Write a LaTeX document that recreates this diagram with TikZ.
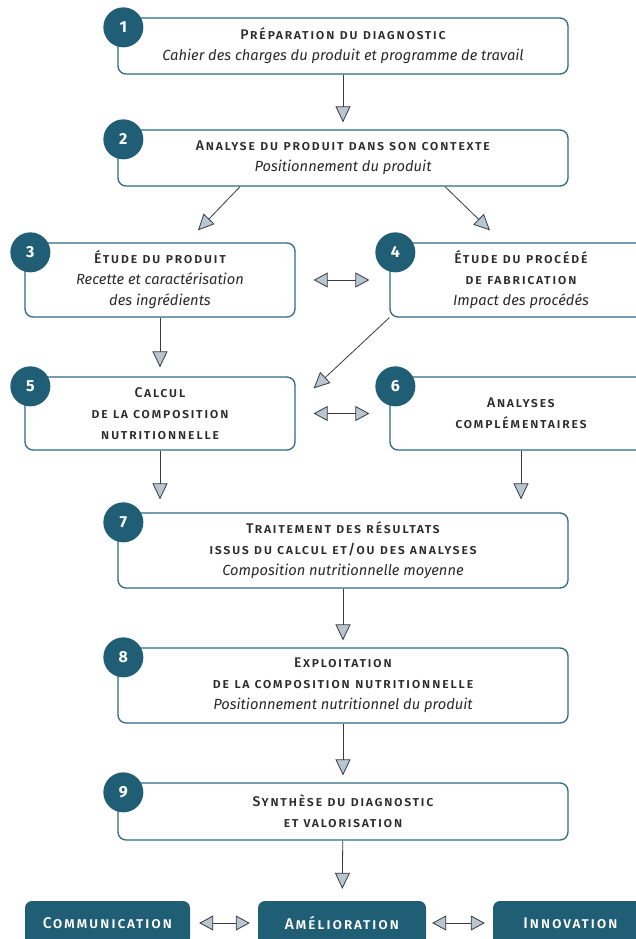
\documentclass[tikz,border=0pt]{standalone}
\usepackage{fontspec}
\setmainfont{Fira Sans}
\newfontfamily\capsfont{Fira Sans}[UprightFont=* Medium, LetterSpace=11]
\usetikzlibrary{arrows.meta}
\definecolor{boxblue}{HTML}{2E6A80}
\definecolor{numblue}{HTML}{1F5E75}
\definecolor{tipfill}{HTML}{B8C6D1}
\definecolor{linegray}{HTML}{3A3A3A}
\definecolor{txtgray}{HTML}{2B2B2B}
\newcommand{\sctitle}[1]{{\capsfont\fontsize{14}{21}\selectfont\scshape #1}}
\tikzset{
    stepbox/.style={draw=boxblue, line width=1.3pt, rounded corners=8pt, fill=white,
        inner sep=0pt, align=center, text=txtgray,
        font=\fontsize{14.7}{21}\selectfont},
    stepnum/.style={circle, fill=numblue, text=white, minimum size=40pt, inner sep=0pt,
        font=\fontsize{16}{16}\selectfont\bfseries},
    outbox/.style={fill=numblue, rounded corners=7pt, text=white, inner sep=0pt,
        font=\fontsize{15.5}{18}\selectfont},
    flow/.style={draw=linegray, line width=0.8pt,
        -{Triangle[length=16pt,width=15pt,fill=tipfill]}},
    both/.style={draw=linegray, line width=0.8pt,
        {Triangle[length=14pt,width=15pt,fill=tipfill]}-{Triangle[length=14pt,width=15pt,fill=tipfill]}}
}
\begin{document}
\begin{tikzpicture}[x=1pt,y=-1pt]
    \clip (0,0) rectangle (636,939);
    \fill[white] (0,0) rectangle (636,939);
    % steps
    \node[stepbox, minimum width=450pt, minimum height=56pt] (b1) at (343,46)
        {\sctitle{Préparation du diagnostic}\\ \itshape Cahier des charges du produit et programme de travail};
    \node[stepbox, minimum width=450pt, minimum height=56pt] (b2) at (343,158)
        {\sctitle{Analyse du produit dans son contexte}\\ \itshape Positionnement du produit};
    \node[stepbox, minimum width=270pt, minimum height=74pt] (b3) at (160,280)
        {\sctitle{Étude du produit}\\ \itshape Recette et caractérisation\\ \itshape des ingrédients};
    \node[stepbox, minimum width=262pt, minimum height=74pt] (b4) at (521,280)
        {\sctitle{Étude du procédé}\\ \sctitle{de fabrication}\\ \itshape Impact des procédés};
    \node[stepbox, minimum width=270pt, minimum height=73pt] (b5) at (160,413.5)
        {\sctitle{Calcul}\\ \sctitle{de la composition}\\ \sctitle{nutritionnelle}};
    \node[stepbox, minimum width=262pt, minimum height=73pt] (b6) at (521,413.5)
        {\sctitle{Analyses}\\ \sctitle{complémentaires}};
    \node[stepbox, minimum width=450pt, minimum height=75pt] (b7) at (343,550.5)
        {\sctitle{Traitement des résultats}\\ \sctitle{issus du calcul et/ou des analyses}\\ \itshape Composition nutritionnelle moyenne};
    \node[stepbox, minimum width=450pt, minimum height=75pt] (b8) at (343,685.5)
        {\sctitle{Exploitation}\\ \sctitle{de la composition nutritionnelle}\\ \itshape Positionnement nutritionnel du produit};
    \node[stepbox, minimum width=450pt, minimum height=57pt] (b9) at (343,811.5)
        {\sctitle{Synthèse du diagnostic}\\ \sctitle{et valorisation}};
    % numbers
    \foreach \n in {1,...,9}
        \node[stepnum] (n\n) at ([xshift=6pt,yshift=-10pt]b\n.north west) {\n};
    % outcomes
    \node[outbox, minimum width=165pt, minimum height=44pt] (comm) at (107.5,923)
        {\capsfont\scshape Communication};
    \node[outbox, minimum width=168pt, minimum height=44pt] (amel) at (342,923)
        {\capsfont\scshape Amélioration};
    \node[outbox, minimum width=155pt, minimum height=44pt] (innov) at (570.5,923)
        {\capsfont\scshape Innovation};
    % connectors
    \draw[flow, shorten >=7pt] (b1) -- (b2);
    \draw[flow] ([xshift=-103pt]b2.south) -- ([xshift=38pt,yshift=12pt]b3.north);
    \draw[flow] ([xshift=102pt]b2.south) -- ([xshift=-31pt,yshift=12pt]b4.north);
    \draw[both, shorten <=18pt, shorten >=20pt] (b3) -- (b4);
    \draw[flow, shorten >=9pt] (b3) -- (b5);
    \draw[flow] (b4.south west) -- ([xshift=18pt,yshift=-12pt]b5.north east);
    \draw[both, shorten <=18pt, shorten >=20pt] (b5) -- (b6);
    \draw[flow, shorten >=13pt] (b5.south) -- (b5.south |- b7.north);
    \draw[flow, shorten >=13pt] (b6.south) -- (b6.south |- b7.north);
    \draw[flow, shorten >=7pt] (b7) -- (b8);
    \draw[flow, shorten >=7pt] (b8) -- (b9);
    \draw[flow, shorten >=12pt] (b9) -- (amel);
    \draw[both, shorten <=9pt, shorten >=8pt] (comm) -- (amel);
    \draw[both, shorten <=6pt, shorten >=8pt] (amel) -- (innov);
\end{tikzpicture}
\end{document}
